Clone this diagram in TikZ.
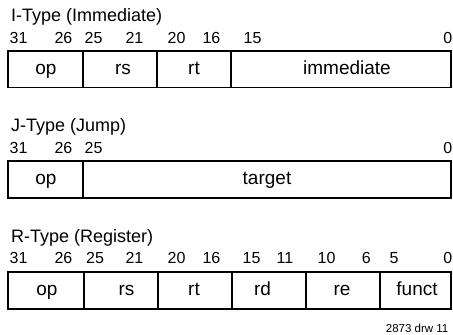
\documentclass[tikz,border=0pt]{standalone}
\usepackage{fontspec}
\setmainfont{Liberation Sans}
\begin{document}
\begin{tikzpicture}[x=1pt,y=-1pt,
  title/.style={anchor=base west,inner sep=0pt,font=\fontsize{18}{20}\selectfont},
  bitl/.style={anchor=base west,inner sep=0pt,font=\fontsize{16}{18}\selectfont},
  bitr/.style={anchor=base east,inner sep=0pt,font=\fontsize{16}{18}\selectfont},
  field/.style={anchor=base,inner sep=0pt,font=\fontsize{19}{21}\selectfont},
  frame/.style={draw=black,line width=1.8pt},
  divider/.style={draw=black,line width=1.5pt}]
\useasboundingbox (0,0) rectangle (453,335);
% ---------- I-Type ----------
\node[title] (ti) at (11,21) {I-Type (Immediate)};
\node[bitl] (i31) at (9.5,43.3) {31};
\node[bitr] (i26) at (72.5,43.3) {26};
\node[bitl] (i25) at (84.5,43.3) {25};
\node[bitr] (i21) at (143.5,43.3) {21};
\node[bitl] (i20) at (167.5,43.3) {20};
\node[bitr] (i16) at (220.5,43.3) {16};
\node[bitl] (i15) at (243.5,43.3) {15};
\node[bitr] (i0) at (452.5,43.3) {0};
\draw[frame] (8,51) rectangle (451,87.5);
\draw[divider] (83,51) -- (83,87.5);
\draw[divider] (157,51) -- (157,87.5);
\draw[divider] (231,51) -- (231,87.5);
\node[field] (iop) at (46,74) {op};
\node[field] (irs) at (123,74) {rs};
\node[field] (irt) at (194,74) {rt};
\node[field] (iimm) at (347,74) {immediate};
% ---------- J-Type ----------
\node[title] (tj) at (11,131) {J-Type (Jump)};
\node[bitl] (j31) at (9.5,153.3) {31};
\node[bitr] (j26) at (72.5,153.3) {26};
\node[bitl] (j25) at (84.5,153.3) {25};
\node[bitr] (j0) at (452.5,153.3) {0};
\draw[frame] (8,161) rectangle (451,198);
\draw[divider] (83,161) -- (83,198);
\node[field] (jop) at (46,184) {op};
\node[field] (jtarget) at (267,184) {target};
% ---------- R-Type ----------
\node[title] (tr) at (11,242) {R-Type (Register)};
\node[bitl] (r31) at (9.5,263.3) {31};
\node[bitr] (r26) at (72.5,263.3) {26};
\node[bitl] (r25) at (86,263.3) {25};
\node[bitr] (r21) at (143.5,263.3) {21};
\node[bitl] (r20) at (167.5,263.3) {20};
\node[bitr] (r16) at (220.5,263.3) {16};
\node[bitl] (r15) at (242.5,263.3) {15};
\node[bitr] (r11) at (293.5,263.3) {11};
\node[bitl] (r10) at (317.5,263.3) {10};
\node[bitr] (r6) at (371,263.3) {6};
\node[bitl] (r5) at (389.5,263.3) {5};
\node[bitr] (r0) at (452.5,263.3) {0};
\draw[frame] (8,272) rectangle (451,309);
\draw[divider] (84,272) -- (84,309);
\draw[divider] (158,272) -- (158,309);
\draw[divider] (232,272) -- (232,309);
\draw[divider] (306,272) -- (306,309);
\draw[divider] (380,272) -- (380,309);
\node[field] (rop) at (47,295) {op};
\node[field] (rrs) at (126.5,295) {rs};
\node[field] (rrt) at (194,295) {rt};
\node[field] (rrd) at (262.5,295) {rd};
\node[field] (rre) at (342,295) {re};
\node[field] (rfunct) at (417,295) {funct};
% ---------- footnote ----------
\node[anchor=base east,inner sep=0pt,font=\fontsize{11.5}{13}\selectfont] (note) at (448.5,332) {2873 drw 11};
\end{tikzpicture}
\end{document}
